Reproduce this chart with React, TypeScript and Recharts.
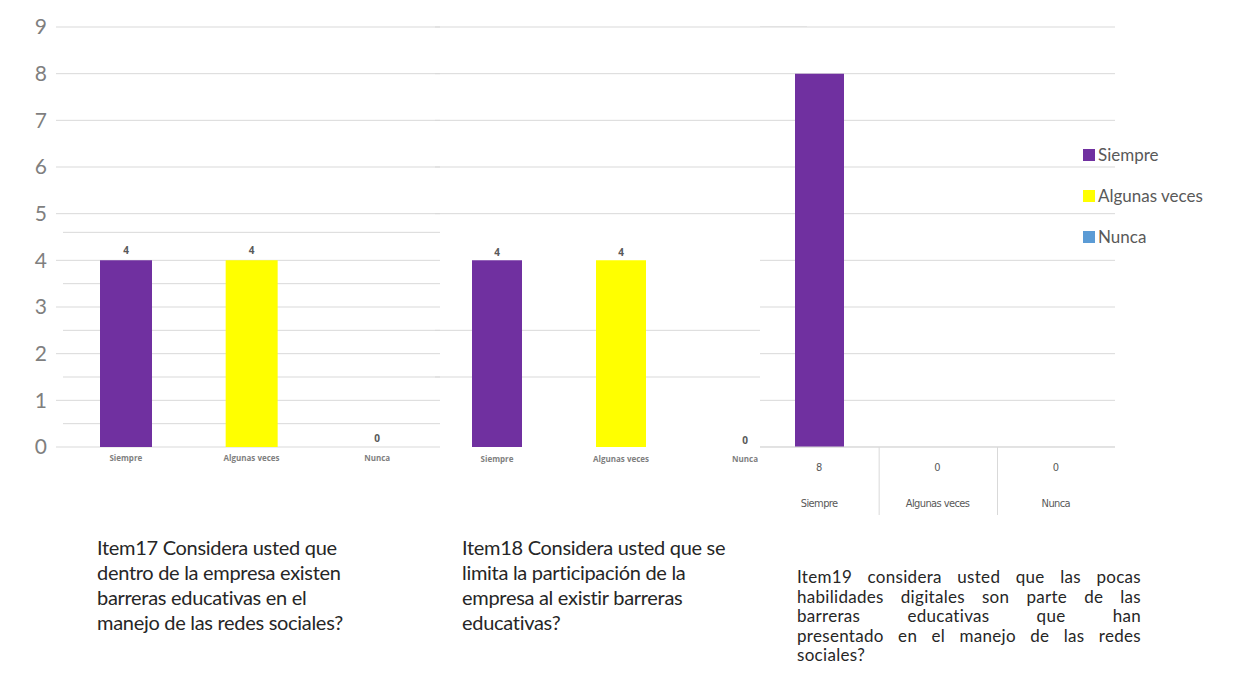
import { Bar, BarChart, CartesianGrid, Cell, LabelList, Legend, ReferenceDot, XAxis, YAxis } from "recharts";

const categories = ["Siempre", "Algunas veces", "Nunca"];
const item17Values = [4, 4, 0];
const item18Values = [4, 4, 0];
const item19Values = [8, 0, 0];
const yTicks = [0, 1, 2, 3, 4, 5, 6, 7, 8, 9];
const barColors = ["#7030A0", "#FFFF00", "#5B9BD5"];
const seriesKeys = ["siempre", "algunas", "nunca"];

// extra grid lines left over from the pasted screenshots
const item17Grid = [0, 0.5, 1, 1.5, 2, 2.5, 3, 3.5, 4, 4.6, 5, 6, 7, 8, 9];
const item18Grid = [1.5, 2, 2.5, 5, 6, 7, 8, 9];

const item17Lines = ["Item17 Considera usted que", "dentro de la empresa existen", "barreras educativas en el", "manejo de las redes sociales?"];
const item18Lines = ["Item18 Considera usted que se", "limita la participación de la", "empresa al existir barreras", "educativas?"];
const item19Lines = [
  "Item19 considera usted que las pocas",
  "habilidades digitales son  parte de las",
  "barreras educativas que han",
  "presentado en el manejo de las redes",
  "sociales?",
];

const GRID = "#d9d9d9";
const TEXT = "#595959";

const item17Data = categories.map((name, i) => ({ name, value: item17Values[i] }));
const item18Data = categories.map((name, i) => ({ name, value: item18Values[i] }));
const item19Data = categories.map((name, i) => {
  const row: Record<string, string | number> = { name };
  seriesKeys.forEach((k, j) => {
    row[k] = i === j ? item19Values[i] : 0;
  });
  return row;
});

const smallTick = { fontSize: 8, fill: "#7f7f7f", fontFamily: "Open Sans", fontWeight: 700 };
const valueLabel = { fontSize: 10, fill: TEXT, fontFamily: "Open Sans", fontWeight: 700 };

function TableTick(props: any) {
  const { x, y, payload, index } = props;
  return (
    <g>
      <text x={x} y={y + 24} textAnchor="middle" fontSize={11} fill={TEXT} fontFamily="DejaVu Sans Condensed">
        {item19Values[index]}
      </text>
      <text x={x} y={y + 60} textAnchor="middle" fontSize={11} fill={TEXT} fontFamily="DejaVu Sans Condensed" letterSpacing={-0.6}>
        {payload.value}
      </text>
      {index < categories.length - 1 && <line x1={x + 60} x2={x + 60} y1={y} y2={y + 68} stroke={GRID} />}
    </g>
  );
}

function LegendBox(props: any) {
  const items = [...(props.payload || [])].sort(
    (a: any, b: any) => categories.indexOf(a.value) - categories.indexOf(b.value)
  );
  return (
    <div style={{ fontFamily: "Lato", fontSize: 17, color: TEXT }}>
      {items.map((entry: any) => (
        <div key={entry.value} style={{ display: "flex", alignItems: "center", height: 41 }}>
          <span style={{ width: 12, height: 12, background: entry.color, marginRight: 3, display: "inline-block" }} />
          {entry.value}
        </div>
      ))}
    </div>
  );
}

const captionStyle = {
  position: "absolute" as const,
  top: 535,
  fontSize: 20,
  lineHeight: "25px",
  color: "#262626",
  fontFamily: "Lato",
  letterSpacing: -0.3,
};

export default function App() {
  return (
    <div style={{ position: "absolute", left: 0, top: 0, width: 1233, height: 682, background: "#fff", fontFamily: "Lato" }}>
      <div style={{ position: "absolute", left: 0, top: 0 }}>
        <BarChart width={445} height={530} data={item17Data} margin={{ top: 27, right: 5, bottom: 53, left: 0 }}>
          <CartesianGrid vertical={false} stroke={GRID} horizontalValues={item17Grid} />
          <XAxis dataKey="name" height={30} axisLine={false} tickLine={false} tick={smallTick} tickMargin={2} />
          <YAxis
            width={63}
            domain={[0, 9]}
            ticks={yTicks}
            interval={0}
            axisLine={false}
            tickSize={7}
            tickMargin={9}
            tickLine={{ stroke: GRID }}
            tick={{ fontSize: 21, fill: "#7f7f7f", fontFamily: "Lato" }}
          />
          <Bar dataKey="value" barSize={52} isAnimationActive={false}>
            {item17Data.map((d, i) => (
              <Cell key={d.name} fill={barColors[i]} />
            ))}
            <LabelList dataKey="value" position="top" offset={6} style={valueLabel} />
          </Bar>
          {item17Data
            .filter((d) => d.value === 0)
            .map((d) => (
              <ReferenceDot key={d.name} x={d.name} y={0} r={0.01} fill="none" stroke="none" label={{ value: d.value, position: "top", offset: 5, style: valueLabel }} />
            ))}
        </BarChart>
      </div>

      <div style={{ position: "absolute", left: 435, top: 0 }}>
        <BarChart width={372} height={530} data={item18Data} margin={{ top: 27, right: 0, bottom: 53, left: 0 }}>
          <CartesianGrid vertical={false} stroke={GRID} horizontalValues={item18Grid} />
          <XAxis dataKey="name" height={30} axisLine={false} tickLine={false} tick={smallTick} tickMargin={3} />
          <YAxis hide domain={[0, 9]} ticks={yTicks} />
          <Bar dataKey="value" barSize={50} isAnimationActive={false}>
            {item18Data.map((d, i) => (
              <Cell key={d.name} fill={barColors[i]} />
            ))}
            <LabelList dataKey="value" position="top" offset={4} style={valueLabel} />
          </Bar>
          {item18Data
            .filter((d) => d.value === 0)
            .map((d) => (
              <ReferenceDot key={d.name} x={d.name} y={0} r={0.01} fill="none" stroke="none" label={{ value: d.value, position: "top", offset: 3, style: valueLabel }} />
            ))}
        </BarChart>
      </div>

      <div style={{ position: "absolute", left: 760, top: 0 }}>
        <BarChart width={473} height={530} data={item19Data} margin={{ top: 27, right: 118, bottom: 13, left: 0 }}>
          <CartesianGrid vertical={false} stroke={GRID} fill="#fff" fillOpacity={1} />
          <XAxis dataKey="name" height={70} axisLine={{ stroke: GRID }} tickLine={false} tickSize={0} tickMargin={0} tick={<TableTick />} interval={0} />
          <YAxis hide domain={[0, 9]} ticks={yTicks} />
          <Legend
            layout="vertical"
            align="center"
            verticalAlign="middle"
            content={<LegendBox />}
            wrapperStyle={{ left: 323, top: 134, width: 150 }}
          />
          {seriesKeys.map((k, j) => (
            <Bar key={k} dataKey={k} name={categories[j]} stackId="a" fill={barColors[j]} barSize={49} legendType="square" isAnimationActive={false} />
          ))}
        </BarChart>
      </div>

      <div style={{ ...captionStyle, left: 97 }}>
        {item17Lines.map((l) => (
          <div key={l}>{l}</div>
        ))}
      </div>
      <div style={{ ...captionStyle, left: 462 }}>
        {item18Lines.map((l) => (
          <div key={l}>{l}</div>
        ))}
      </div>
      <div
        style={{
          position: "absolute",
          left: 797,
          top: 567,
          width: 344,
          fontSize: 17,
          lineHeight: "19.5px",
          color: "#262626",
          fontFamily: "Lato",
          letterSpacing: 0.3,
        }}
      >
        {item19Lines.map((l, i) => (
          <div
            key={l}
            style={{
              textAlign: "justify",
              textAlignLast: i < item19Lines.length - 1 ? "justify" : "left",
              whiteSpace: "nowrap",
            }}
          >
            {l}
          </div>
        ))}
      </div>
    </div>
  );
}
